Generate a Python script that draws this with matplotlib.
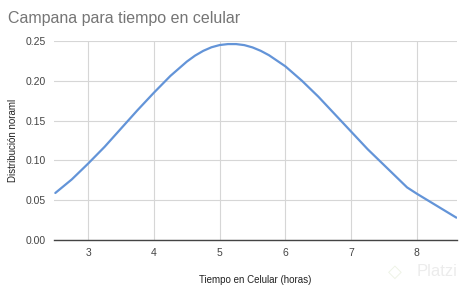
import matplotlib.pyplot as plt

plt.rcParams['font.family'] = ['Liberation Sans', 'DejaVu Sans']

# Horas en celular vs densidad
horas = [2.5, 2.75, 3.0, 3.25, 3.5, 3.75, 4.0, 4.25, 4.5, 4.625, 4.75, 4.875,
         5.0, 5.125, 5.25, 5.375, 5.5, 5.625, 5.75, 6.0, 6.25, 6.5, 6.75,
         7.0, 7.25, 7.5, 7.85, 8.0, 8.3, 8.6]
densidad = [0.059, 0.076, 0.096, 0.117, 0.140, 0.163, 0.185, 0.206, 0.224,
            0.2315, 0.2375, 0.2420, 0.2448, 0.2460, 0.2460, 0.2447, 0.2418,
            0.2375, 0.2320, 0.218, 0.200, 0.180, 0.158, 0.136, 0.114, 0.094,
            0.066, 0.058, 0.043, 0.028]
xticks = [3, 4, 5, 6, 7, 8]
yticks = [0.00, 0.05, 0.10, 0.15, 0.20, 0.25]

fig = plt.figure(figsize=(4.64, 2.86), dpi=100)
ax = fig.add_axes([0.1164, 0.161, 0.8686, 0.696])
ax.plot(horas, densidad, lw=1.6, c='#6394d8', solid_capstyle='round',
        solid_joinstyle='round')
ax.set_xlim(2.48, 8.61)
ax.set_ylim(0, 0.25)
ax.set_xticks(xticks)
ax.set_yticks(yticks)
ax.set_yticklabels(['%.2f' % v for v in yticks])
ax.grid(True, color='#d6d6d6', lw=0.8)
for s in ['top', 'right', 'left']:
    ax.spines[s].set_visible(False)
ax.spines['bottom'].set_color('#444444')
ax.spines['bottom'].set_linewidth(1.0)
ax.tick_params(length=0, labelsize=7.5, colors='#444444', pad=6)
ax.set_xlabel('Tiempo en Celular (horas)', fontsize=7, color='#222222', labelpad=12)
ax.set_ylabel('Distribución noraml', fontsize=7, color='#222222', labelpad=5)
fig.text(0.017, 0.935, 'Campana para tiempo en celular', fontsize=11.5,
         color='#757575', va='center')
fig.text(0.985, 0.05, 'Platzi', fontsize=12, color='#ececec',
         ha='right', va='center')
fig.text(0.865, 0.05, '◇', fontsize=13, color='#eef3e6',
         ha='right', va='center', family='DejaVu Sans')
plt.savefig('out.png', dpi=100)
